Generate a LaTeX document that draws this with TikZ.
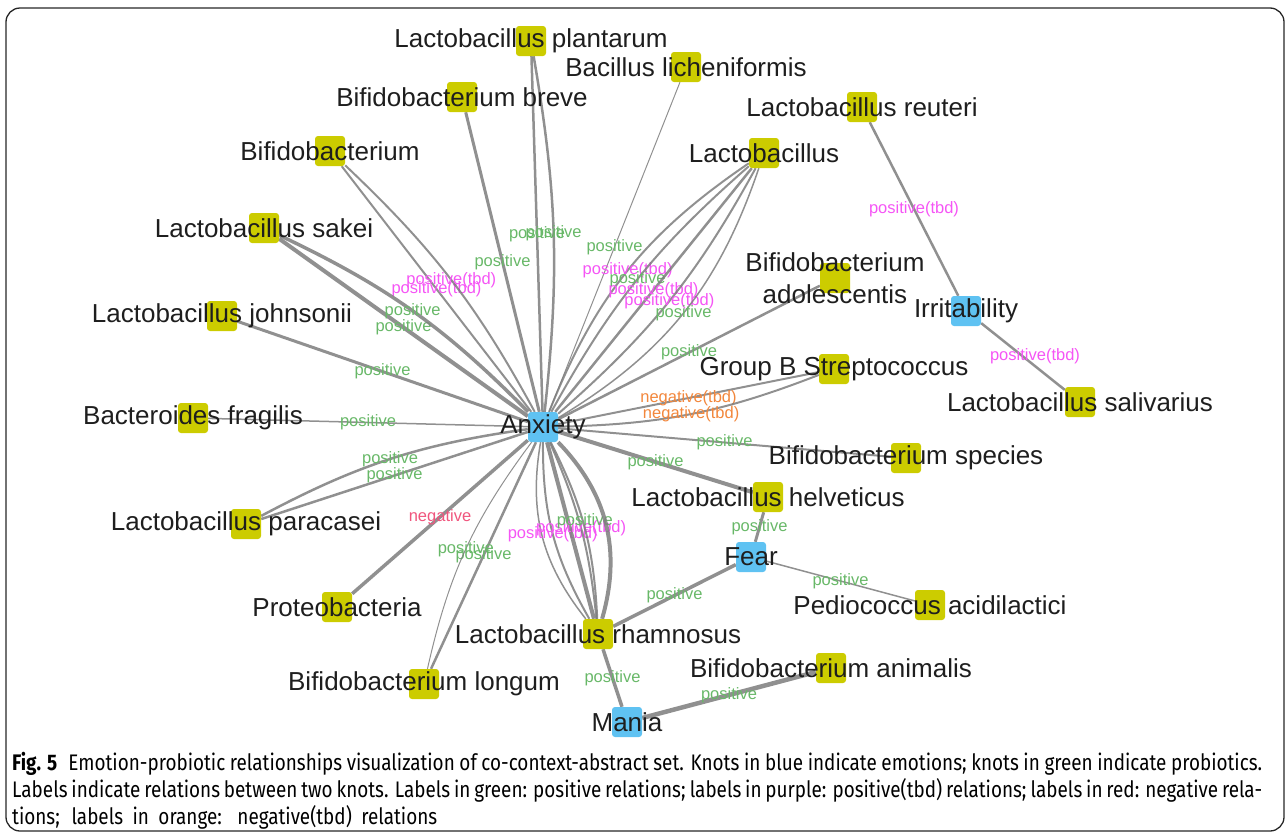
\documentclass[tikz,border=0pt]{standalone}
\usepackage{fontspec}
\setmainfont{Liberation Sans}
\newfontfamily\captionFont[FakeStretch=0.84]{Fira Sans}
\usetikzlibrary{backgrounds}
\definecolor{probioFill}{RGB}{204,204,0}
\definecolor{emotionFill}{RGB}{95,194,242}
\definecolor{edgeGray}{RGB}{125,125,125}
\definecolor{posGreen}{RGB}{104,184,104}
\definecolor{tbdPink}{RGB}{245,85,245}
\definecolor{negRed}{RGB}{240,85,125}
\definecolor{negTbdOrange}{RGB}{242,135,60}
\definecolor{knotText}{RGB}{30,30,30}
\newcommand{\knotSize}{30pt}
\newcommand{\edgeOpacity}{0.85}

\begin{document}
\begin{tikzpicture}[x=1pt, y=-1pt]
  \tikzset{
    knot text/.style={font=\fontsize{26}{30}\selectfont, text=knotText, align=center, inner sep=0pt},
    knot/.style={minimum size=\knotSize, inner sep=0pt, rounded corners=3pt, label={[knot text]center:{#1}}},
    probio/.style={knot={#1}, fill=probioFill},
    emotion/.style={knot={#1}, fill=emotionFill},
    link/.style={draw=edgeGray, draw opacity=\edgeOpacity, line width=#1},
    link/.default=2pt,
    edge label/.style={font=\fontsize{16.5}{16.5}\selectfont, inner sep=0pt, midway},
    posLab/.style={edge label, text=posGreen},
    tbdLab/.style={edge label, text=tbdPink},
    negLab/.style={edge label, text=negRed},
    negTbdLab/.style={edge label, text=negTbdOrange},
    capLine/.style={font=\captionFont\fontsize{22.5}{22.5}\selectfont, inner sep=0pt, anchor=base west}
  }
  \useasboundingbox (0,0) rectangle (1288,836);
  \draw[rounded corners=14pt, line width=1.3pt, black!85] (6,8) rectangle (1284,831);

  % emotions
  \node[emotion=Anxiety] (anx) at (543,427) {};
  \node[emotion=Irritability] (irr) at (966,311) {};
  \node[emotion=Fear] (fear) at (751,557) {};
  \node[emotion=Mania] (mania) at (627,722) {};

  % probiotics
  \node[probio={Lactobacillus plantarum}] (lPlant) at (531,41) {};
  \node[probio={Bacillus licheniformis}] (bLich) at (686,67) {};
  \node[probio={Bifidobacterium breve}] (bBreve) at (462,97) {};
  \node[probio={Bifidobacterium}] (bifido) at (330,151) {};
  \node[probio={Lactobacillus reuteri}] (lReut) at (862,107) {};
  \node[probio={Lactobacillus}] (lacto) at (764,153) {};
  \node[probio={Lactobacillus sakei}] (lSakei) at (264,228) {};
  \node[probio={Bifidobacterium\\[2pt]adolescentis}] (bAdol) at (835,278) {};
  \node[probio={Lactobacillus johnsonii}] (lJohn) at (222,316) {};
  \node[probio={Group B Streptococcus}] (gbStrep) at (834,369) {};
  \node[probio={Lactobacillus salivarius}] (lSaliv) at (1080,402) {};
  \node[probio={Bacteroides fragilis}] (bFrag) at (193,418) {};
  \node[probio={Bifidobacterium species}] (bSpec) at (906,458) {};
  \node[probio={Lactobacillus helveticus}] (lHelv) at (768,497) {};
  \node[probio={Lactobacillus paracasei}] (lPara) at (246,524) {};
  \node[probio={Pediococcus acidilactici}] (pedio) at (930,605) {};
  \node[probio={Proteobacteria}] (proteo) at (337,607) {};
  \node[probio={Lactobacillus rhamnosus}] (lRham) at (598,634) {};
  \node[probio={Bifidobacterium animalis}] (bAnim) at (831,668) {};
  \node[probio={Bifidobacterium longum}] (bLong) at (424,684) {};

  \begin{pgfonlayer}{background}
    % anxiety hub
    \draw[link=2.5pt] (anx) to node[posLab]{positive} (lPlant);
    \draw[link=2.5pt] (anx) to[bend right=8] node[posLab]{positive} (lPlant);
    \draw[link=1pt] (anx) to node[posLab]{positive} (bLich);
    \draw[link=3pt] (anx) to node[posLab]{positive} (bBreve);
    \draw[link=2pt] (anx) to node[tbdLab]{positive(tbd)} (bifido);
    \draw[link=2pt] (anx) to[bend right=9] node[tbdLab]{positive(tbd)} (bifido);
    \draw[link=4pt] (anx) to node[posLab]{positive} (lSakei);
    \draw[link=3.5pt] (anx) to[bend right=10] node[posLab]{positive} (lSakei);
    \draw[link=3pt] (anx) to node[posLab]{positive} (lJohn);
    \draw[link=1.5pt] (anx) to node[posLab]{positive} (bFrag);
    \draw[link=2.5pt] (anx) to node[posLab]{positive} (lPara);
    \draw[link=2.5pt] (anx) to[bend right=10] node[posLab]{positive} (lPara);
    \draw[link=3.5pt] (anx) to node[negLab]{negative} (proteo);
    \draw[link=2.5pt] (anx) to node[posLab]{positive} (bLong);
    \draw[link=1pt] (anx) to[bend right=12] node[posLab]{positive} (bLong);
    \draw[link=4pt] (anx) to node[posLab]{positive} (lHelv);
    \draw[link=2pt] (anx) to node[posLab]{positive} (bSpec);
    \draw[link=2pt] (anx) to node[negTbdLab]{negative(tbd)} (gbStrep);
    \draw[link=2pt] (anx) to[bend right=10] node[negTbdLab]{negative(tbd)} (gbStrep);
    \draw[link=2.5pt] (anx) to node[posLab]{positive} (bAdol);
    % lactobacillus fan
    \draw[link=2pt] (anx) to[bend left=17] node[tbdLab]{positive(tbd)} (lacto);
    \draw[link=2pt] (anx) to[bend left=10] node[posLab]{positive} (lacto);
    \draw[link=2.5pt] (anx) to node[tbdLab]{positive(tbd)} (lacto);
    \draw[link=2pt] (anx) to[bend right=10] node[tbdLab]{positive(tbd)} (lacto);
    \draw[link=1.5pt] (anx) to[bend right=20] node[posLab]{positive} (lacto);
    % rhamnosus lens
    \draw[link=1.5pt] (anx) to[bend right=24] (lRham);
    \draw[link=2pt] (anx) to[bend right=15] node[tbdLab]{positive(tbd)} (lRham);
    \draw[link=4pt] (anx) to (lRham);
    \draw[link=2pt] (anx) to[bend left=9] node[tbdLab]{positive(tbd)} (lRham);
    \draw[link=2pt] (anx) to[bend left=12] node[posLab, yshift=6pt]{positive} (lRham);
    \draw[link=4pt] (anx) to[bend left=30] (lRham);
    % other emotions
    \draw[link=2.5pt] (lReut) to node[tbdLab]{positive(tbd)} (irr);
    \draw[link=2.5pt] (irr) to node[tbdLab, xshift=12pt]{positive(tbd)} (lSaliv);
    \draw[link=3pt] (fear) to node[posLab]{positive} (lHelv);
    \draw[link=1.5pt] (fear) to node[posLab]{positive} (pedio);
    \draw[link=3.5pt] (fear) to node[posLab]{positive} (lRham);
    \draw[link=3.5pt] (lRham) to node[posLab]{positive} (mania);
    \draw[link=4.5pt] (mania) to node[posLab]{positive} (bAnim);
  \end{pgfonlayer}

  % caption
  \node[capLine] (capA) at (12,770) {\makebox[1250pt][s]{\textbf{\mbox{Fig. 5}}\enspace Emotion-probiotic relationships visualization of co-context-abstract set. Knots in blue indicate emotions; knots in green indicate probiotics.}};
  \node[capLine] (capB) at (12,797) {\makebox[1250pt][s]{Labels indicate relations between two knots. Labels in green: positive relations; labels in purple: positive(tbd) relations; labels in red: negative rela-}};
  \node[capLine] (capC) at (12,824) {\makebox[425pt][s]{tions; labels in orange: negative(tbd) relations}};
\end{tikzpicture}
\end{document}
